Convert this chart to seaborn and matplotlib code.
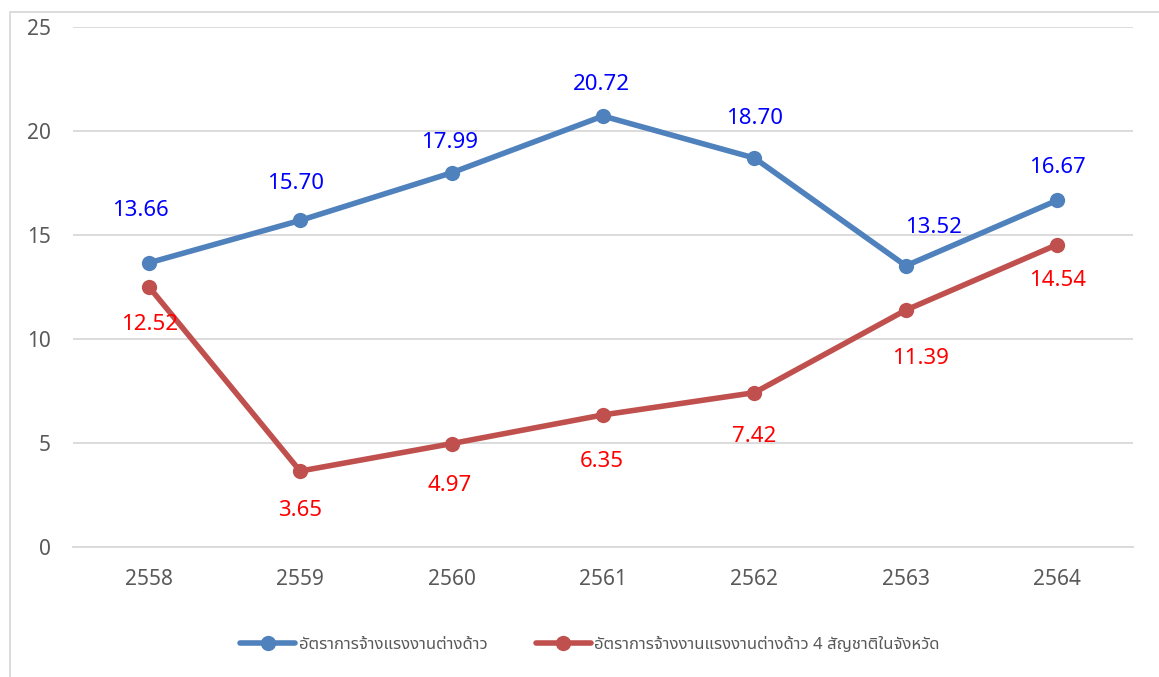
import matplotlib
matplotlib.use("Agg")
import matplotlib.pyplot as plt
import seaborn as sns
import pandas as pd
from matplotlib.lines import Line2D

years = ["2558", "2559", "2560", "2561", "2562", "2563", "2564"]
series1_name = "อัตราการจ้างแรงงานต่างด้าว"
series2_name = "อัตราการจ้างงานแรงงานต่างด้าว 4 สัญชาติในจังหวัด"
series1 = [13.66, 15.70, 17.99, 20.72, 18.70, 13.52, 16.67]
series2 = [12.52, 3.65, 4.97, 6.35, 7.42, 11.39, 14.54]
yticks = [0, 5, 10, 15, 20, 25]

# label offsets in pixels (dx, dy) -- styling only
off1 = [(-8, 52), (-5, 37), (-2, 30), (-2, 32), (0, 40), (28, 38), (0, 33)]
off2 = [(1, -38), (0, -39), (-2, -42), (-1, -47), (0, -44), (15, -48), (0, -36)]

sns.set_theme(style="white")
plt.rcParams["font.family"] = ["Noto Sans Thai", "Tahoma", "Loma", "Garuda", "Noto Sans", "DejaVu Sans"]

df = pd.DataFrame({
    "year": years * 2,
    "value": series1 + series2,
    "series": [series1_name] * len(years) + [series2_name] * len(years),
})

blue = "#4F81BD"
red = "#C0504D"

fig = plt.figure(figsize=(11.59, 6.77), dpi=100)
ax = fig.add_axes([73 / 1159, 1 - 547 / 677, (1133 - 73) / 1159, (547 - 27) / 677])

sns.lineplot(data=df, x="year", y="value", hue="series", palette=[blue, red],
             marker="o", markersize=11, markeredgewidth=0, linewidth=4,
             ax=ax, legend=False, sort=False)

ax.set_xlim(-0.5, 6.5)
ax.set_ylim(0, 25)
ax.set_yticks(yticks)
ax.set_yticklabels([str(t) for t in yticks])
ax.set_xlabel("")
ax.set_ylabel("")
ax.grid(axis="y", color="#D9D9D9", linewidth=1.3)
ax.set_axisbelow(True)
for s in ["top", "right", "left"]:
    ax.spines[s].set_visible(False)
ax.spines["bottom"].set_color("#D9D9D9")
ax.spines["bottom"].set_linewidth(1.3)
ax.tick_params(axis="both", length=0, labelsize=15, labelcolor="#595959")
ax.tick_params(axis="y", pad=16)
ax.tick_params(axis="x", pad=16)

for i, v in enumerate(series1):
    ax.annotate(f"{v:.2f}", (i, v), xytext=off1[i], textcoords="offset pixels",
                ha="center", va="center", color="#0000FF", fontsize=16)
for i, v in enumerate(series2):
    ax.annotate(f"{v:.2f}", (i, v), xytext=off2[i], textcoords="offset pixels",
                ha="center", va="center", color="#FF0000", fontsize=16)

handles = [
    Line2D([], [], color=blue, linewidth=4, marker="o", markersize=11, markeredgewidth=0),
    Line2D([], [], color=red, linewidth=4, marker="o", markersize=11, markeredgewidth=0),
]
fig.legend(handles, [series1_name, series2_name], loc="center",
           bbox_to_anchor=(590 / 1159, 1 - 645 / 677), ncol=2, frameon=False,
           fontsize=12, labelcolor="#595959", handlelength=3.3, columnspacing=2.9,
           handletextpad=0.2)

# outer chart border (top and left visible)
fig.add_artist(Line2D([10 / 1159, 10 / 1159, 1.0], [0.0, 1 - 12 / 677, 1 - 12 / 677],
                      transform=fig.transFigure, color="#D9D9D9", linewidth=1.3))

fig.savefig("out.png", dpi=100)
